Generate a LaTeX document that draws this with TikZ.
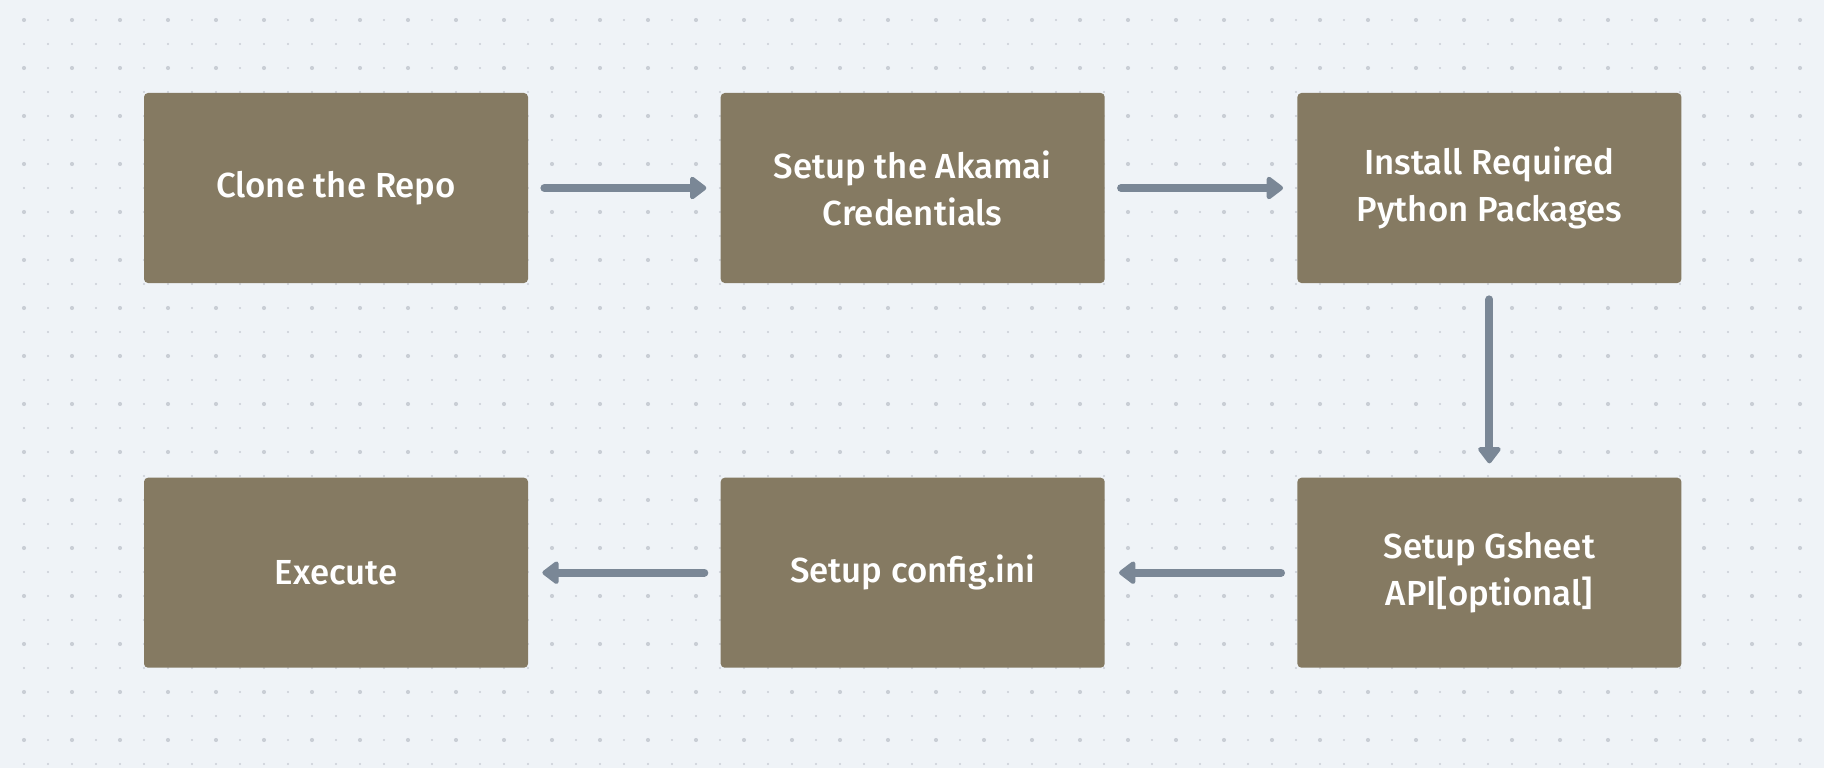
\documentclass[tikz,border=0pt]{standalone}
\usepackage{fontspec}
\setmainfont{Fira Sans}[UprightFont=* Medium]
\usetikzlibrary{arrows.meta}
\usetikzlibrary{positioning}
\definecolor{boxfill}{HTML}{857A62}
\definecolor{arrowgray}{HTML}{7A8796}
\definecolor{bggray}{HTML}{EFF3F7}
\definecolor{dotgray}{HTML}{C9CED5}
\tikzset{stepbox/.style = {fill=boxfill, rounded corners=0.08cm, minimum width=7.68cm, minimum height=3.8cm, align=center, text=white, font=\fontsize{19.8}{26.7}\selectfont}}
\tikzset{flow/.style = {draw=arrowgray, line width=4.5pt, line cap=round, -{Triangle[width=14.7pt,length=10.2pt,round]}, shorten <=0.32cm, shorten >=0.28cm}}

\begin{document}
\begin{tikzpicture}
        \fill [bggray] (0,0) rectangle (36.48,-15.36);
        \useasboundingbox (0,0) rectangle (36.48,-15.36);
        \foreach \i in {0,...,74}
            \foreach \j in {0,...,31}
                \fill [dotgray] ({0.48+0.48*\i},{-0.4-0.48*\j}) circle [radius=0.022];
        \foreach \i in {0,2,...,74}
            \foreach \j in {0,2,...,31}
                \fill [dotgray] ({0.48+0.48*\i},{-0.4-0.48*\j}) circle [radius=0.042];
        \node [stepbox] (clone) at (6.72,-3.76) {Clone the Repo};
        \node [stepbox, right=3.84cm of clone] (creds) {Setup the Akamai\\Credentials};
        \node [stepbox, right=3.84cm of creds] (pkgs) {Install Required\\Python Packages};
        \node [stepbox, below=3.88cm of pkgs] (gsheet) {Setup Gsheet\\API[optional]};
        \node [stepbox, left=3.84cm of gsheet] (config) {Setup config.ini};
        \node [stepbox, left=3.84cm of config] (exec) {Execute};
        \draw [flow] (clone) -- (creds);
        \draw [flow] (creds) -- (pkgs);
        \draw [flow] (pkgs) -- (gsheet);
        \draw [flow] (gsheet) -- (config);
        \draw [flow] (config) -- (exec);
    \end{tikzpicture}
\end{document}
